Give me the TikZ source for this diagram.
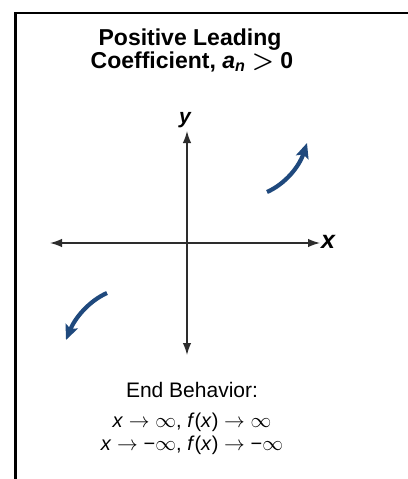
\documentclass[tikz,border=0pt]{standalone}
\usepackage{fontspec}
\setmainfont{Liberation Sans}
\usetikzlibrary{arrows.meta}
\definecolor{curveblue}{RGB}{31,73,125}
\definecolor{axisgray}{RGB}{45,45,45}
\newcommand{\ra}{\ensuremath{\mskip5mu\rightarrow\mskip5mu}}
\newcommand{\inftysym}{\ensuremath{\infty}}
\begin{document}
\begin{tikzpicture}[x=1pt,y=-1pt,
  axis/.style={draw=axisgray,line width=1.4pt,{Latex[length=12pt,width=8.5pt]}-{Latex[length=12pt,width=8.5pt]}},
  endcurve/.style={draw=curveblue,line width=4.2pt,-{Stealth[length=15pt,width=13pt,inset=3pt]}},
  ttl/.style={font=\fontsize{23}{23.5}\selectfont\bfseries,align=center,inner sep=0pt},
  body/.style={font=\fontsize{21}{23}\selectfont,inner sep=0pt},
  axlabel/.style={inner sep=0pt,font=\bfseries\itshape}]
\useasboundingbox (0,0) rectangle (407,479);
\fill[white] (0,0) rectangle (407,479);
\draw[line width=2.8pt,line cap=rect] (407,13) -- (15.5,13) -- (15.5,479);
% title
\node[ttl,anchor=base] (t1) at (190,45) {Positive Leading};
\node[ttl,anchor=base] (t2) at (192,68) {Coefficient, {\itshape a}\textsubscript{\itshape n} {\fontsize{25}{25}\selectfont\boldmath$>$} 0};
% axes
\coordinate (xl) at (50,243);
\coordinate (xr) at (320,243);
\coordinate (yt) at (187,131);
\coordinate (yb) at (187,355);
\draw[axis] (xl) -- (xr);
\draw[axis] (yb) -- (yt);
\node[axlabel,font=\fontsize{25}{25}\selectfont\bfseries\itshape,anchor=west] (xlab) at (321,242) {x};
\node[axlabel,font=\fontsize{21}{21}\selectfont\bfseries\itshape,anchor=base] (ylab) at (185,123) {y};
% end behaviour curves
\coordinate (ur0) at (267,192);
\coordinate (ur1) at (307,143);
\coordinate (ll0) at (107,293);
\coordinate (ll1) at (66,340);
\draw[endcurve] (ur0) .. controls (285,184) and (299,167) .. (ur1);
\draw[endcurve] (ll0) .. controls (89,301) and (75,318) .. (ll1);
% end behaviour text
\node[body,anchor=base] (eb) at (192,397) {End Behavior:};
\node[body,anchor=base,font=\fontsize{20}{20}\selectfont] (l1) at (192,427) {\textit{x}\ra\inftysym, \textit{f}(\textit{x})\ra\inftysym};
\node[body,anchor=base,font=\fontsize{20}{20}\selectfont] (l2) at (192,450) {\textit{x}\ra−\inftysym, \textit{f}(\textit{x})\ra−\inftysym};
\end{tikzpicture}
\end{document}
